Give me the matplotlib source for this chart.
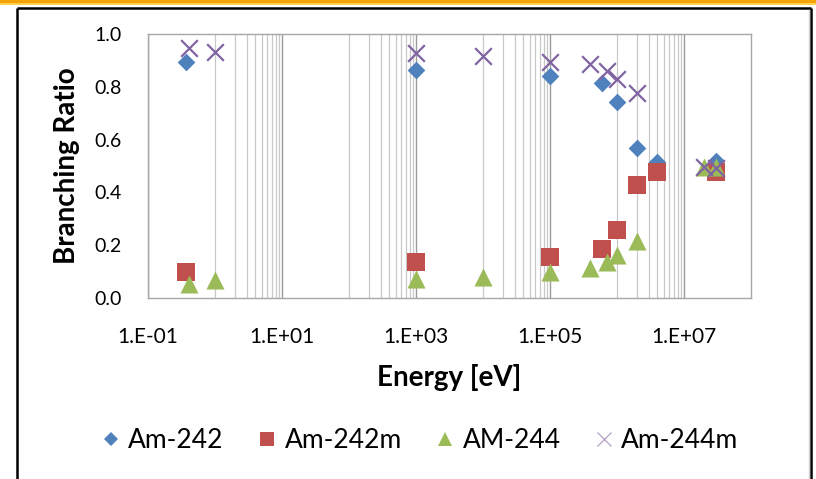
import numpy as np
import matplotlib
matplotlib.use("Agg")
import matplotlib.pyplot as plt
from matplotlib.lines import Line2D
from matplotlib.patches import Rectangle
from matplotlib.ticker import FuncFormatter

plt.rcParams['font.family'] = ['Lato', 'DejaVu Sans']

# === DATA ===
am242_e = [0.37, 1e3, 1e5, 6e5, 1e6, 2e6, 4e6, 3e7]
am242_r = [0.895, 0.864, 0.842, 0.813, 0.744, 0.569, 0.515, 0.52]

am242m_e = [0.37, 1e3, 1e5, 6e5, 1e6, 2e6, 4e6, 3e7]
am242m_r = [0.10, 0.135, 0.154, 0.185, 0.258, 0.428, 0.478, 0.478]

am244_e = [0.41, 1.0, 1e3, 1e4, 1e5, 4e5, 7e5, 1e6, 2e6, 2e7, 3e7]
am244_r = [0.053, 0.068, 0.072, 0.081, 0.10, 0.112, 0.135, 0.163, 0.217, 0.497, 0.495]

am244m_e = [0.41, 1.0, 1e3, 1e4, 1e5, 4e5, 7e5, 1e6, 2e6, 2e7, 3e7]
am244m_r = [0.946, 0.931, 0.927, 0.917, 0.893, 0.885, 0.861, 0.830, 0.775, 0.497, 0.491]

labels = ['Am-242', 'Am-242m', 'AM-244', 'Am-244m']
colors = ['#4F81BD', '#C0504D', '#9BBB59', '#8064A2']

major_x = [1e-1, 1e1, 1e3, 1e5, 1e7]
minor_x = [k * 10.0 ** n for n in (0, 2, 4, 6) for k in range(1, 10)]
y_ticks = [0.0, 0.2, 0.4, 0.6, 0.8, 1.0]

# === FIGURE ===
W, H = 816, 479
fig = plt.figure(figsize=(W / 100, H / 100), dpi=100)
ax = fig.add_axes([148 / W, 1 - 298 / H, (751 - 148) / W, (298 - 34) / H])

# page decoration: orange band + black chart frame
fig.patches.append(Rectangle((0, 1 - 3 / H), 1, 3 / H, transform=fig.transFigure,
                             facecolor='#F5A300', edgecolor='none', zorder=0))
fig.patches.append(Rectangle((0, 1 - 5 / H), 1, 2 / H, transform=fig.transFigure,
                             facecolor='#FFD24D', edgecolor='none', zorder=0))
frame_kw = dict(transform=fig.transFigure, color='black', lw=1.8, solid_capstyle='butt')
fig.add_artist(Line2D([16.5 / W, 811 / W], [1 - 8 / H, 1 - 8 / H], **frame_kw))
fig.add_artist(Line2D([16.5 / W, 16.5 / W], [0, 1 - 8 / H], **frame_kw))
fig.add_artist(Line2D([811 / W, 811 / W], [0, 1 - 8 / H], **frame_kw))
fig.add_artist(Line2D([808.5 / W, 808.5 / W], [0, 1 - 10 / H], transform=fig.transFigure,
                      color='#D0D0D0', lw=1))

# === PLOT ===
ax.scatter(am242_e, am242_r, marker='D', s=9 ** 2, color=colors[0], linewidths=0, zorder=3)
ax.scatter(am242m_e, am242m_r, marker='s', s=12.5 ** 2, color=colors[1], linewidths=0, zorder=4)
ax.scatter(am244_e, am244_r, marker='^', s=13 ** 2, color=colors[2], linewidths=0, zorder=5)
ax.scatter(am244m_e, am244m_r, marker='x', s=12 ** 2, color=colors[3], linewidths=1.6, zorder=6)

ax.set_xscale('log')
ax.set_xlim(1e-1, 1e8)
ax.set_ylim(0, 1)
ax.set_xticks(major_x)
ax.set_xticks(minor_x, minor=True)
ax.xaxis.set_minor_formatter(FuncFormatter(lambda v, p: ''))
ax.xaxis.set_major_formatter(FuncFormatter(lambda v, p: '1.E%+03d' % int(round(np.log10(v)))))
ax.set_yticks(y_ticks)
ax.yaxis.set_major_formatter(FuncFormatter(lambda v, p: '%.1f' % v))

ax.grid(True, which='minor', axis='x', color='#C8C8C8', lw=0.9)
ax.grid(True, which='major', axis='x', color='#9C9C9C', lw=1.0)
ax.set_axisbelow(True)
ax.tick_params(axis='both', which='both', length=0)
ax.tick_params(axis='x', labelsize=15, pad=21)
ax.tick_params(axis='y', labelsize=14, pad=19)
for s in ax.spines.values():
    s.set_color('#A6A6A6')
    s.set_linewidth(1.0)

ax.set_xlabel('Energy [eV]', fontsize=20, fontweight='bold', labelpad=12)
ax.set_ylabel('Branching Ratio', fontsize=20, fontweight='bold', labelpad=10)

# === LEGEND ===
handles = [
    Line2D([], [], ls='none', marker='D', ms=7.5, color=colors[0], mew=0),
    Line2D([], [], ls='none', marker='s', ms=10, color=colors[1], mew=0),
    Line2D([], [], ls='none', marker='^', ms=10, color=colors[2], mew=0),
    Line2D([], [], ls='none', marker='x', ms=10, color='#B3A2C7', mew=0.9),
]
fig.legend(handles, labels, loc='center', bbox_to_anchor=(0.515, 1 - 441 / H), ncol=4,
           frameon=False, fontsize=19, handlelength=0.7, handletextpad=0.3,
           columnspacing=1.3, borderpad=0)

fig.savefig('out.png', dpi=100)
